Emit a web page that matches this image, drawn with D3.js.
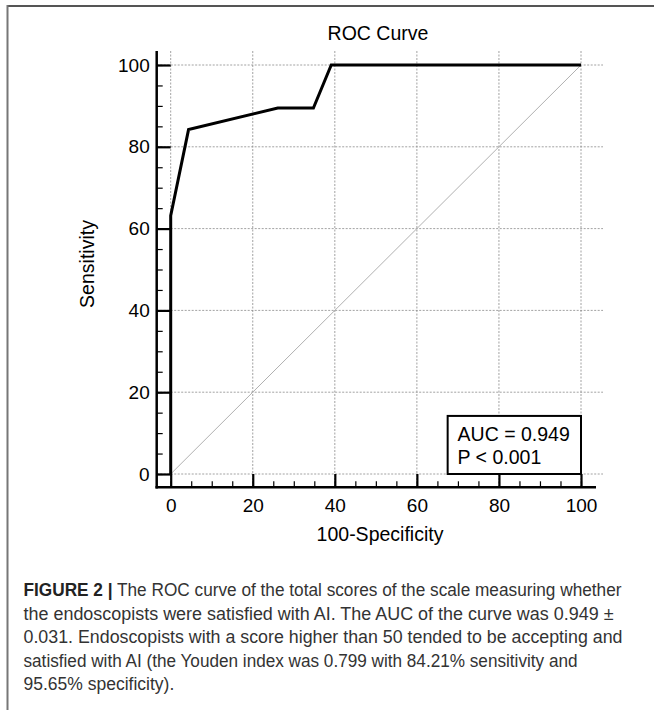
<!DOCTYPE html>
<html><head><meta charset="utf-8">
<script src="https://cdn.jsdelivr.net/npm/d3@7"></script>
<style>html,body{margin:0;padding:0;background:#fff;}svg{display:block;}</style>
</head><body>
<svg id="c" width="654" height="710"></svg>
<script>
// ---- data ----
const fpr = [0, 0, 4.35, 26.09, 34.78, 39.13, 100];      // 100-Specificity
const tpr = [0, 63.16, 84.21, 89.47, 89.47, 100, 100];    // Sensitivity
const majorTicks = [0, 20, 40, 60, 80, 100];
const minorTicks = d3.range(0, 101, 5);
const chartTitle = "ROC Curve";
const xTitle = "100-Specificity";
const yTitle = "Sensitivity";
const annot = ["AUC = 0.949", "P < 0.001"];
const captionBold = "FIGURE 2 |";
const captionLines = [
  " The ROC curve of the total scores of the scale measuring whether",
  "the endoscopists were satisfied with AI. The AUC of the curve was 0.949 \u00B1",
  "0.031. Endoscopists with a score higher than 50 tended to be accepting and",
  "satisfied with AI (the Youden index was 0.799 with 84.21% sensitivity and",
  "95.65% specificity)."
];
const captionWidths = [598, 590, 599, 554, null];

// ---- drawing ----
const svg = d3.select("#c");
const font = "'Liberation Sans', Arial, Helvetica, sans-serif";
const x = d3.scaleLinear().domain([0, 100]).range([170.7, 581]);
const y = d3.scaleLinear().domain([0, 100]).range([474, 65]);
const axisX = x(0) - 14, axisY = y(0) + 13.3, axisTop = y(100) - 14;

// frame
svg.append("line").attr("x1", 7).attr("x2", 654).attr("y1", 6).attr("y2", 6)
  .attr("stroke", "#555").attr("stroke-width", 2);
svg.append("line").attr("x1", 7.5).attr("x2", 7.5).attr("y1", 5).attr("y2", 710)
  .attr("stroke", "#777").attr("stroke-width", 2);

// grid
const g = svg.append("g");
g.selectAll(".gx").data(majorTicks).join("line")
  .attr("x1", d => x(d)).attr("x2", d => x(d)).attr("y1", axisTop).attr("y2", axisY)
  .attr("stroke", "#8a8a8a").attr("stroke-width", 0.8).attr("stroke-dasharray", "2,1.5");
g.selectAll(".gy").data(majorTicks).join("line")
  .attr("y1", d => y(d)).attr("y2", d => y(d)).attr("x1", axisX).attr("x2", x(100) + 22)
  .attr("stroke", "#8a8a8a").attr("stroke-width", 0.8).attr("stroke-dasharray", "2,1.5");

// diagonal
g.append("line").attr("x1", x(0)).attr("y1", y(0)).attr("x2", x(100)).attr("y2", y(100))
  .attr("stroke", "#b0b0b0").attr("stroke-width", 1);

// ROC curve
const pts = fpr.map((f, i) => [f, tpr[i]]);
g.append("path").datum(pts)
  .attr("d", d3.line().x(d => x(d[0])).y(d => y(d[1])))
  .attr("fill", "none").attr("stroke", "#000").attr("stroke-width", 3)
  .attr("stroke-linejoin", "miter");

// axes: minor ticks
svg.append("g").attr("transform", `translate(${axisX},0)`)
  .call(d3.axisLeft(y).tickValues(minorTicks).tickSize(-6).tickFormat(""))
  .call(s => s.select(".domain").remove())
  .call(s => s.selectAll("line").attr("stroke", "#000").attr("stroke-width", 1.2));
svg.append("g").attr("transform", `translate(0,${axisY})`)
  .call(d3.axisBottom(x).tickValues(minorTicks).tickSize(-6).tickFormat(""))
  .call(s => s.select(".domain").remove())
  .call(s => s.selectAll("line").attr("stroke", "#000").attr("stroke-width", 1.2));

// axes: major ticks with labels
svg.append("g").attr("transform", `translate(${axisX},0)`)
  .call(d3.axisLeft(y).tickValues(majorTicks).tickSize(-(x(0) - axisX)).tickPadding(7).tickFormat(d3.format("d")))
  .call(s => s.select(".domain").remove())
  .call(s => s.selectAll("line").attr("stroke", "#000").attr("stroke-width", 2.2))
  .call(s => s.selectAll("text").attr("font-family", font).attr("font-size", 19).attr("fill", "#000"));
svg.append("g").attr("transform", `translate(0,${axisY})`)
  .call(d3.axisBottom(x).tickValues(majorTicks).tickSize(-(axisY - y(0))).tickPadding(11).tickFormat(d3.format("d")))
  .call(s => s.select(".domain").remove())
  .call(s => s.selectAll("line").attr("stroke", "#000").attr("stroke-width", 2.2))
  .call(s => s.selectAll("text").attr("font-family", font).attr("font-size", 19).attr("fill", "#000"));

// axis lines
svg.append("line").attr("x1", axisX).attr("x2", axisX).attr("y1", axisTop).attr("y2", axisY + 1.2)
  .attr("stroke", "#000").attr("stroke-width", 2.5);
svg.append("line").attr("x1", axisX - 1.2).attr("x2", x(100) + 15).attr("y1", axisY).attr("y2", axisY)
  .attr("stroke", "#000").attr("stroke-width", 2.5);

// titles
svg.append("text").attr("x", 378).attr("y", 40).attr("text-anchor", "middle")
  .attr("font-family", font).attr("font-size", 19.5).text(chartTitle);
svg.append("text").attr("x", 380).attr("y", 541).attr("text-anchor", "middle")
  .attr("font-family", font).attr("font-size", 19.5).text(xTitle);
svg.append("text").attr("transform", "translate(94,264) rotate(-90)").attr("text-anchor", "middle")
  .attr("font-family", font).attr("font-size", 19.5).text(yTitle);

// AUC box
svg.append("rect").attr("x", x(67.5)).attr("y", y(14.2)).attr("width", x(100) - x(67.5)).attr("height", y(0) - y(14.2))
  .attr("fill", "#fff").attr("stroke", "#000").attr("stroke-width", 2);
svg.selectAll(".ann").data(annot).join("text")
  .attr("x", x(66.5) + 14).attr("y", (d, i) => 441 + i * 23)
  .attr("font-family", font).attr("font-size", 19.5).text(d => d);

// caption
const cap = svg.append("g").attr("font-family", font).attr("font-size", 17.5).attr("fill", "#333");
captionLines.forEach((line, i) => {
  const t = cap.append("text").attr("x", 23.5).attr("y", 596 + i * 23.5);
  if (captionWidths[i]) t.attr("textLength", captionWidths[i]).attr("lengthAdjust", "spacingAndGlyphs");
  if (i === 0) {
    t.append("tspan").attr("font-weight", "bold").attr("fill", "#222").text(captionBold);
  }
  t.append("tspan").text(line);
});
</script>
</body></html>
